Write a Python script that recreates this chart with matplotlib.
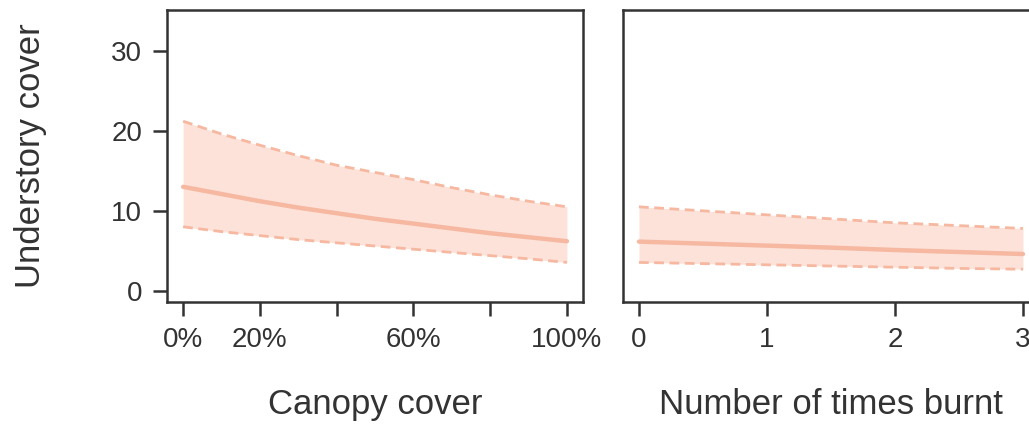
import numpy as np
import matplotlib.pyplot as plt

plt.rcParams['font.family'] = ['Liberation Sans', 'DejaVu Sans']

# predicted understory cover vs canopy cover (%)
canopy = [0, 10, 20, 30, 40, 50, 60, 70, 80, 90, 100]
canopy_fit = [13.0, 12.1, 11.2, 10.4, 9.7, 9.0, 8.4, 7.8, 7.2, 6.7, 6.2]
canopy_hi = [21.2, 19.6, 18.2, 16.9, 15.7, 14.8, 13.9, 12.9, 12.0, 11.2, 10.5]
canopy_lo = [8.0, 7.4, 6.9, 6.4, 6.0, 5.6, 5.2, 4.8, 4.4, 4.0, 3.55]

# predicted understory cover vs number of fires
burnt = [0, 0.5, 1, 1.5, 2, 2.5, 3]
burnt_fit = [6.15, 5.9, 5.65, 5.4, 5.1, 4.85, 4.6]
burnt_hi = [10.5, 10.0, 9.5, 9.0, 8.5, 8.15, 7.8]
burnt_lo = [3.55, 3.4, 3.25, 3.1, 2.95, 2.8, 2.7]

canopy_ticks = [0, 20, 40, 60, 80, 100]
canopy_ticklabels = ['0%', '20%', '', '60%', '', '100%']
burnt_ticks = [0, 1, 2, 3]
y_ticks = [0, 10, 20, 30]

line_col = '#f6b8a0'
fill_col = '#fce2d9'
frame_col = '#333333'

fig = plt.figure(figsize=(10.29, 4.40), dpi=100)
ax1 = fig.add_axes([0.1623, 0.3136, 0.4043, 0.6636])
ax2 = fig.add_axes([0.6054, 0.3136, 0.4043, 0.6636])


def draw_panel(ax, x, fit, lo, hi):
    ax.fill_between(x, lo, hi, color=fill_col, lw=0)
    ax.plot(x, hi, color=line_col, lw=2, dashes=(3.5, 2))
    ax.plot(x, lo, color=line_col, lw=2, dashes=(3.5, 2))
    ax.plot(x, fit, color=line_col, lw=3.2, solid_capstyle='round')
    for s in ax.spines.values():
        s.set_color(frame_col)
        s.set_linewidth(1.8)
    ax.tick_params(direction='out', length=10, width=1.8, color=frame_col,
                   labelcolor=frame_col, labelsize=20, pad=8)
    ax.set_ylim(-1.4, 35.1)
    ax.set_yticks(y_ticks)


draw_panel(ax1, canopy, canopy_fit, canopy_lo, canopy_hi)
ax1.set_xlim(-4.2, 104.2)
ax1.set_xticks(canopy_ticks)
ax1.set_xticklabels(canopy_ticklabels)
ax1.set_ylabel('Understory cover', fontsize=25, color=frame_col, labelpad=46)
ax1.set_xlabel('Canopy cover', fontsize=25, color=frame_col, labelpad=25)

draw_panel(ax2, burnt, burnt_fit, burnt_lo, burnt_hi)
ax2.set_xlim(-0.125, 3.125)
ax2.set_xticks(burnt_ticks)
ax2.tick_params(axis='y', left=False, labelleft=False)
ax2.set_xlabel('Number of times burnt', fontsize=25, color=frame_col, labelpad=25)

fig.savefig('out.png', dpi=100)
